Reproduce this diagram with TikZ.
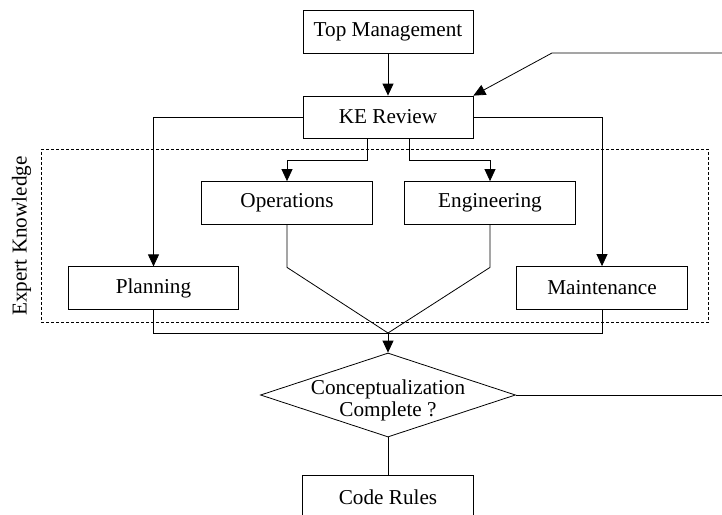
\documentclass[tikz,border=0pt]{standalone}
\usepackage{fontspec}
\setmainfont{Liberation Serif}
\usetikzlibrary{arrows.meta,shapes.geometric}
\begin{document}
\begin{tikzpicture}[x=1pt,y=-1pt,
  every node/.style={font=\fontsize{21.2pt}{23pt}\selectfont},
  box/.style={draw, line width=0.8pt, minimum width=171pt, minimum height=43pt, inner sep=0pt},
  ln/.style={line width=0.8pt},
  arr/.style={line width=0.8pt, -{Triangle[length=12pt,width=11pt]}}]
\useasboundingbox (0,0) rectangle (722,514);
% dashed group
\node[draw, line width=0.7pt, dash pattern=on 3pt off 2pt, minimum width=667pt, minimum height=173.5pt, inner sep=0pt] (ek) at (374.7,236) {};
\node[rotate=90, inner sep=0pt] (eklabel) at (21.5,236) {Expert Knowledge};
% boxes
\node[box, minimum width=170pt] (tm) at (388,31.5) {Top Management};
\node[box, minimum width=170pt, minimum height=42pt] (ke) at (388,117) {KE Review};
\node[box] (ops) at (287,203) {Operations};
\node[box] (eng) at (490,203) {Engineering};
\node[box, minimum width=170pt] (plan) at (153.5,288.3) {Planning};
\node[box] (maint) at (602,288) {Maintenance};
\node[diamond, draw, line width=0.8pt, minimum width=255pt, minimum height=84pt, inner sep=0pt] (dec) at (388,395) {};
\node[align=center, inner sep=0pt] (dectext) at (388,400) {Conceptualization\\[-1pt]Complete ?};
\node[box, minimum height=46pt, anchor=north] (code) at (388,475) {};
\node[inner sep=0pt] (codetext) at (388,497) {Code Rules};
% coordinates
\coordinate (join) at (388,333);
\coordinate (fbin) at (722,53);
\coordinate (fbk) at (552,53);
\coordinate (fbout) at (722,395);
% connectors
\draw[arr] (tm) -- (ke);
\draw[arr] (fbin) -- (fbk) -- (ke.north east);
\draw[arr] (ke.west) -| (plan.north);
\draw[arr] (ke.east) -| (maint.north);
\draw[arr] ([xshift=-21pt]ke.south) -- ++(0,22) -| (ops.north);
\draw[arr] ([xshift=21pt]ke.south) -- ++(0,22) -| (eng.north);
\draw[ln] (ops.south) -- ++(0,42.5) -- (join);
\draw[ln] (eng.south) -- ++(0,42.5) -- (join);
\draw[ln] (plan.south) |- (join);
\draw[ln] (maint.south) |- (join);
\draw[arr] (join) -- (dec.north);
\draw[ln] (dec.east) -- (fbout);
\draw[ln] (dec.south) -- (code.north);
\end{tikzpicture}
\end{document}
